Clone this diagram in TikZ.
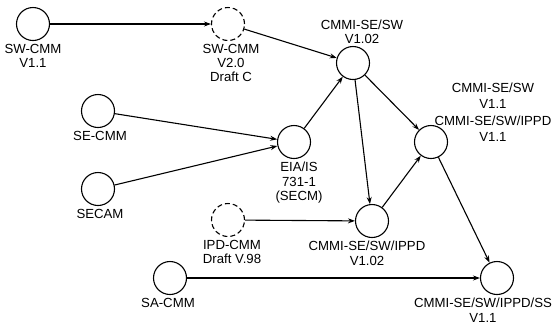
\documentclass[tikz,border=0pt]{standalone}
\usepackage{fontspec}
\setmainfont{Liberation Sans}
\usetikzlibrary{positioning,arrows.meta}

\begin{document}
\begin{tikzpicture}[
  x=1pt, y=-1pt,
  model/.style={
    draw, line width=1.1pt, circle,
    minimum size=33pt, inner sep=0pt
  },
  draft/.style={
    model, dash pattern=on 5pt off 3pt
  },
  lbl/.style={
    font=\fontsize{13.2}{14.2}\selectfont, align=center, inner sep=1pt
  },
  arr/.style={-{Stealth[length=7pt,width=5pt]}, line width=1.1pt},
]
\useasboundingbox (0,0) rectangle (556,325);

\node[model] (swcmm)   at (33, 24)  {};
\node[draft] (swdraft) at (228, 24) {};
\node[model] (secmm)   at (98, 111) {};
\node[model] (secam)   at (98, 189) {};
\node[model] (eia)     at (294, 142) {};
\node[model] (cmmi)    at (353, 63)  {};
\node[model] (cmminew) at (431, 142) {};
\node[draft] (ipdcmm)  at (228, 220) {};
\node[model] (ippd)    at (372, 221) {};
\node[model] (sacmm)   at (170, 278) {};
\node[model] (ss)      at (497, 278) {};

\node[lbl, below=2pt of swcmm]               (swcmm-l)   {SW-CMM\\V1.1};
\node[lbl, below=2pt of swdraft, xshift=3pt] (swdraft-l) {SW-CMM\\V2.0\\Draft C};
\node[lbl, below=2pt of secmm, xshift=2pt]   (secmm-l)   {SE-CMM};
\node[lbl, below=2pt of secam, xshift=2pt]   (secam-l)   {SECAM};
\node[lbl, below=2pt of eia, xshift=5pt]     (eia-l)     {EIA/IS\\731-1\\(SECM)};
\node[lbl, above=1pt of cmmi, xshift=9pt]    (cmmi-l)    {CMMI-SE/SW\\V1.02};
\node[lbl, font=\fontsize{13.2}{16.5}\selectfont] (cmminew-l) at (493, 112)
  {CMMI-SE/SW\\V1.1\\CMMI-SE/SW/IPPD\\V1.1};
\node[lbl, below=2pt of ipdcmm, xshift=4pt]  (ipdcmm-l)  {IPD-CMM\\Draft V.98};
\node[lbl, below=2pt of ippd, xshift=-5pt]   (ippd-l)    {CMMI-SE/SW/IPPD\\V1.02};
\node[lbl, below=2pt of sacmm, xshift=-2pt]  (sacmm-l)   {SA-CMM};
\node[lbl, below=2pt of ss, xshift=-14pt]    (ss-l)      {CMMI-SE/SW/IPPD/SS\\V1.1};

\draw[arr] (swcmm)   -- (swdraft);
\draw[arr] (swdraft) -- (cmmi);
\draw[arr] (secmm)   -- (eia);
\draw[arr] (secam)   -- (eia);
\draw[arr] (eia)     -- (cmmi);
\draw[arr] (cmmi)    -- (cmminew);
\draw[arr] (cmmi)    -- (ippd);
\draw[arr] (ipdcmm)  -- (ippd);
\draw[arr] (ippd)    -- (cmminew);
\draw[arr] (cmminew) -- (ss);
\draw[arr] (sacmm)   -- (ss);

\end{tikzpicture}
\end{document}
